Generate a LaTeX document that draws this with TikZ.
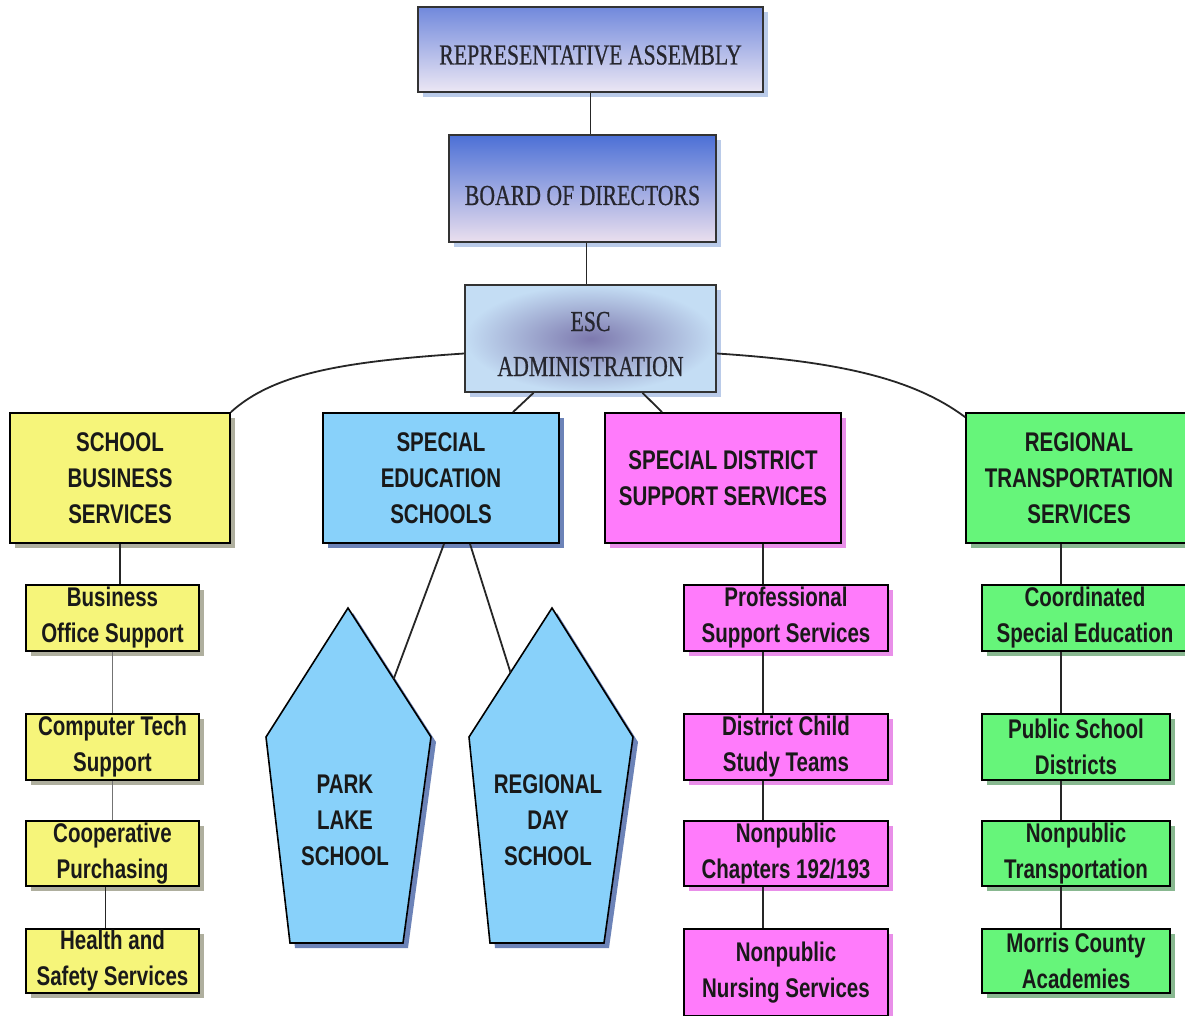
\documentclass[tikz,border=0pt]{standalone}
\usepackage{fontspec}
\setmainfont{Liberation Serif}
\newfontfamily\orgsans[FakeStretch=0.76]{Liberation Sans}
\newfontfamily\orgserif[FakeStretch=0.75, FakeBold=0.6]{Liberation Serif}
\usetikzlibrary{shadows,calc,positioning}
\definecolor{EscInk}{HTML}{26262E}
\definecolor{AssemblyTop}{HTML}{7189DC}
\definecolor{AssemblyBottom}{HTML}{ECE7F4}
\definecolor{BoardTop}{HTML}{4C70D6}
\definecolor{BoardBottom}{HTML}{EADFEE}
\definecolor{AdminInner}{HTML}{7D79AE}
\definecolor{AdminOuter}{HTML}{C4DDF4}
\definecolor{TopShade}{HTML}{9DB5E0}
\definecolor{BizYellow}{HTML}{F6F57A}
\definecolor{BizShade}{HTML}{6E6E50}
\definecolor{SpedBlue}{HTML}{88D1FA}
\definecolor{SpedShade}{HTML}{2F4F9A}
\definecolor{DistMagenta}{HTML}{FF7BFB}
\definecolor{DistShade}{HTML}{E060E0}
\definecolor{RideGreen}{HTML}{66F57A}
\definecolor{RideShade}{HTML}{3A8A46}
\tikzset{
  orgline/.style={line width=1.8pt, draw=black!85},
  topbox/.style={
    draw=black!80,
    line width=1.7pt,
    inner sep=0pt,
    align=center,
    text=EscInk,
    text depth=0pt,
    font=\orgserif\fontsize{29}{45}\selectfont,
    drop shadow={shadow xshift=5pt, shadow yshift=-5pt, fill=TopShade, opacity=.7}
  },
  orgbox/.style={
    draw=black,
    line width=1.8pt,
    inner sep=0pt,
    align=center,
    text=black!90,
    font=\orgsans\bfseries\fontsize{27}{36}\selectfont
  },
  unitbox/.style={orgbox, minimum height=130pt},
  subbox/.style={orgbox, minimum height=66pt},
  bizfill/.style={fill=BizYellow,
    drop shadow={shadow xshift=5pt, shadow yshift=-5pt, fill=BizShade, opacity=.55}},
  spedfill/.style={fill=SpedBlue,
    drop shadow={shadow xshift=5pt, shadow yshift=-5pt, fill=SpedShade, opacity=.7}},
  distfill/.style={fill=DistMagenta,
    drop shadow={shadow xshift=5pt, shadow yshift=-5pt, fill=DistShade, opacity=.7}},
  ridefill/.style={fill=RideGreen,
    drop shadow={shadow xshift=5pt, shadow yshift=-5pt, fill=RideShade, opacity=.6}},
  pentbox/.style={draw=black, line width=1.6pt, spedfill},
  penttext/.style={align=center, text=black!90,
    font=\orgsans\bfseries\fontsize{27}{36}\selectfont}
}
\begin{document}
\begin{tikzpicture}[x=1pt, y=-1pt]
  \fill[white] (0,0) rectangle (1185,1016);
  \useasboundingbox (0,0) rectangle (1185,1016);

  % governance
  \node[topbox, top color=AssemblyTop, bottom color=AssemblyBottom, text height=30pt,
    minimum width=345pt, minimum height=85pt] (assembly) at (590.5,49.5) {REPRESENTATIVE ASSEMBLY};
  \node[topbox, top color=BoardTop, bottom color=BoardBottom, text height=33pt,
    minimum width=267pt, minimum height=107pt] (board) at (582.5,188.5) {BOARD OF DIRECTORS};
  \node[topbox, inner color=AdminInner, outer color=AdminOuter, text height=75pt,
    minimum width=251pt, minimum height=107pt] (admin) at (590.5,338.5) {ESC\\ADMINISTRATION};

  % divisions
  \node[unitbox, bizfill, minimum width=220pt] (business) at (120,478) {SCHOOL\\BUSINESS\\SERVICES};
  \node[unitbox, spedfill, minimum width=236pt] (sped) at (441,478) {SPECIAL\\EDUCATION\\SCHOOLS};
  \node[unitbox, distfill, minimum width=236pt] (district) at (723,478) {SPECIAL DISTRICT\\SUPPORT SERVICES};
  \node[unitbox, ridefill, minimum width=226pt] (transport) at (1079,478) {REGIONAL\\TRANSPORTATION\\SERVICES};

  % business column
  \node[subbox, bizfill, minimum width=173pt] (bizoffice) at (112.5,618) {Business\\Office Support};
  \node[subbox, bizfill, minimum width=173pt] (comptech) at (112.5,747) {Computer Tech\\Support};
  \node[subbox, bizfill, minimum width=173pt, minimum height=65pt] (coop) at (112.5,853.5) {Cooperative\\Purchasing};
  \node[subbox, bizfill, minimum width=173pt, minimum height=64pt] (health) at (112.5,961) {Health and\\Safety Services};

  % district column
  \node[subbox, distfill, minimum width=204pt] (profsupport) at (786,618) {Professional\\Support Services};
  \node[subbox, distfill, minimum width=204pt] (childstudy) at (786,747) {District Child\\Study Teams};
  \node[subbox, distfill, minimum width=204pt, minimum height=65pt] (chapters) at (786,853.5) {Nonpublic\\Chapters 192/193};
  \node[subbox, distfill, minimum width=204pt, minimum height=87pt] (nursing) at (786,972.5) {Nonpublic\\Nursing Services};

  % transport column
  \node[subbox, ridefill, minimum width=206pt] (coordsped) at (1085,618) {Coordinated\\Special Education};
  \node[subbox, ridefill, minimum width=188pt] (publicdist) at (1076,747) {Public School\\Districts};
  \node[subbox, ridefill, minimum width=188pt, minimum height=65pt] (nonpubtrans) at (1076,853.5) {Nonpublic\\Transportation};
  \node[subbox, ridefill, minimum width=188pt, minimum height=64pt] (academies) at (1076,961) {Morris County\\Academies};

  % schools
  \draw[pentbox] (348,608) coordinate (parklake-top) -- (431,737) coordinate (parklake-ne)
    -- (403,943) -- (290,943) -- (266,737) -- cycle;
  \draw[pentbox] (552,608) coordinate (regday-top) -- (633,737) -- (604,943)
    -- (490,943) -- (469,737) coordinate (regday-nw) -- cycle;
  \node[penttext] (parklake) at (345,820) {PARK\\LAKE\\SCHOOL};
  \node[penttext] (regday) at (548,820) {REGIONAL\\DAY\\SCHOOL};

  \draw[orgline] (assembly.south) -- (assembly.south |- board.north);
  \draw[orgline] ([xshift=4pt]board.south) -- ([xshift=4pt]board.south |- admin.north);
  \draw[orgline] ([yshift=-15pt]admin.west) .. controls +(-120,8) and +(43,-39) .. (business.north east);
  \draw[orgline] ([yshift=-15pt]admin.east) .. controls +(124,8) and +(-51,-38) .. ([yshift=-5pt]transport.north west);
  \draw[orgline] ([xshift=-57pt]admin.south) -- ([xshift=72pt]sped.north);
  \draw[orgline] ([xshift=52pt]admin.south) -- ([xshift=-61pt]district.north);

  \draw[orgline] ([xshift=3pt]sped.south) -- ($(parklake-top)!0.55!(parklake-ne)$);
  \draw[orgline] ([xshift=29pt]sped.south) -- ($(regday-top)!0.5!(regday-nw)$);

  \draw[orgline] (business.south) -- (business.south |- bizoffice.north);
  \draw[orgline, draw=black!55] (bizoffice.south) -- (comptech.north);
  \draw[orgline, draw=black!55] (comptech.south) -- (coop.north);
  \draw[orgline] ([xshift=-7pt]coop.south) -- ([xshift=-7pt]health.north);

  \draw[orgline] ([xshift=40pt]district.south) -- ([xshift=40pt]district.south |- profsupport.north);
  \draw[orgline] ([xshift=-23pt]profsupport.south) -- ([xshift=-23pt]childstudy.north);
  \draw[orgline] ([xshift=-23pt]childstudy.south) -- ([xshift=-23pt]chapters.north);
  \draw[orgline] ([xshift=-23pt]chapters.south) -- ([xshift=-23pt]nursing.north);

  \draw[orgline] ([xshift=-18pt]transport.south) -- ([xshift=-18pt]transport.south |- coordsped.north);
  \draw[orgline] ([xshift=-24pt]coordsped.south) -- ([xshift=-15pt]publicdist.north);
  \draw[orgline] ([xshift=-15pt]publicdist.south) -- ([xshift=-15pt]nonpubtrans.north);
  \draw[orgline] ([xshift=-15pt]nonpubtrans.south) -- ([xshift=-15pt]academies.north);
\end{tikzpicture}
\end{document}
